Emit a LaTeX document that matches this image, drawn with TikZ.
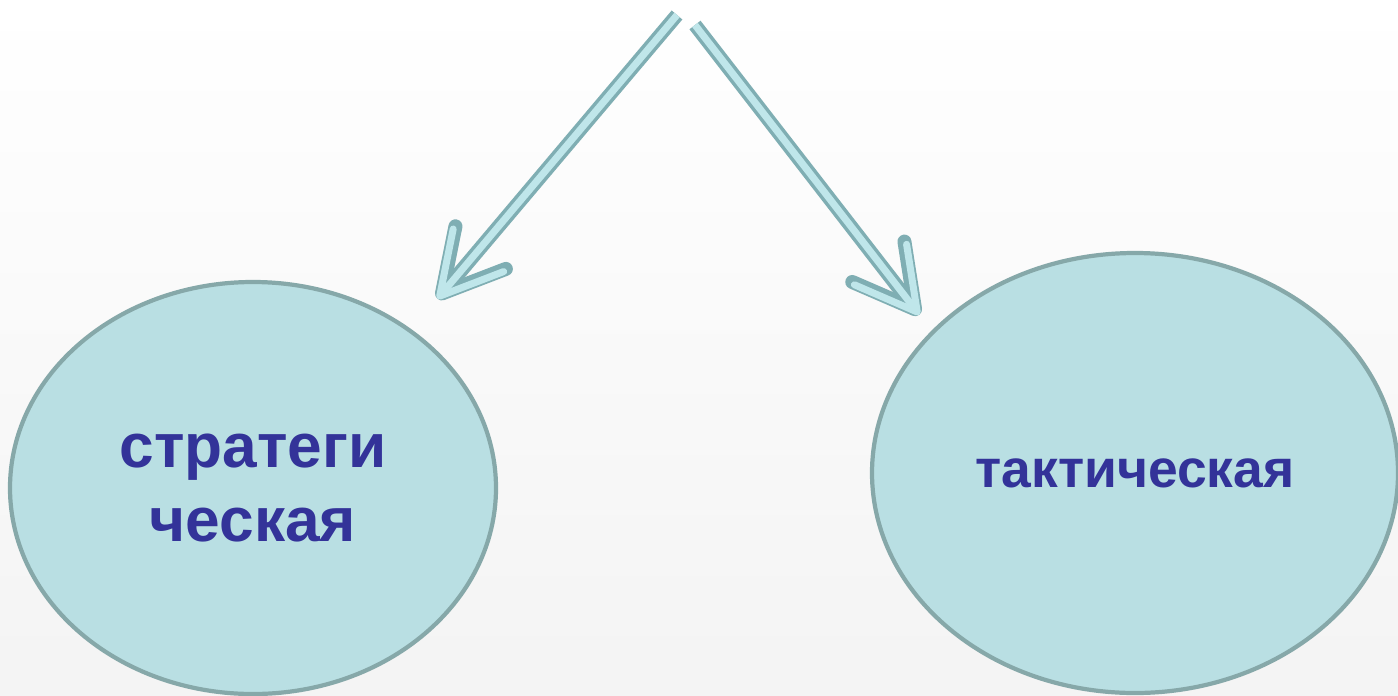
\documentclass[tikz,border=0pt]{standalone}
\usepackage{fontspec}
\setmainfont{Liberation Sans}
\usetikzlibrary{arrows.meta,shapes.geometric}
\definecolor{bubblefill}{HTML}{B9DFE3}
\definecolor{bubbleedge}{HTML}{86A8A9}
\definecolor{labelblue}{HTML}{333399}
\definecolor{pipedark}{HTML}{7FAEB3}
\definecolor{pipelight}{HTML}{BFE6EA}

\begin{document}
\begin{tikzpicture}[
        bubble/.style={ellipse,draw=bubbleedge,line width=1.2pt,fill=bubblefill,inner sep=0pt,text=labelblue,align=center},
        pipe/.style={draw=pipedark,line width=1.4mm,-{Straight Barb[length=6mm,width=6.6mm,round]},
            postaction={draw=pipelight,line width=0.7mm}},
        ]
        
        % Fond
        \shade[top color=white,bottom color=gray!9] (0,0) rectangle (13.98,6.95);
        \useasboundingbox (0,0) rectangle (13.98,6.95);
        
        % Ellipses
        \node[bubble,minimum width=4.86cm,minimum height=4.12cm,font=\fontsize{17.7}{21.3}\selectfont\bfseries] (strat) at (2.53,2.07) {стратеги\\ческая};
        \node[bubble,minimum width=5.26cm,minimum height=4.40cm,font=\fontsize{15.2}{18}\selectfont\bfseries] (takt) at (11.35,2.22) {тактическая};
        
        % Fleches
        \coordinate (startL) at (6.77,6.80);
        \coordinate (startR) at (6.95,6.70);
        \draw[pipe,shorten >=4mm] (startL) -- (strat.45);
        \draw[pipe,shorten >=2mm] (startR) -- (takt.145);
    \end{tikzpicture}
\end{document}
